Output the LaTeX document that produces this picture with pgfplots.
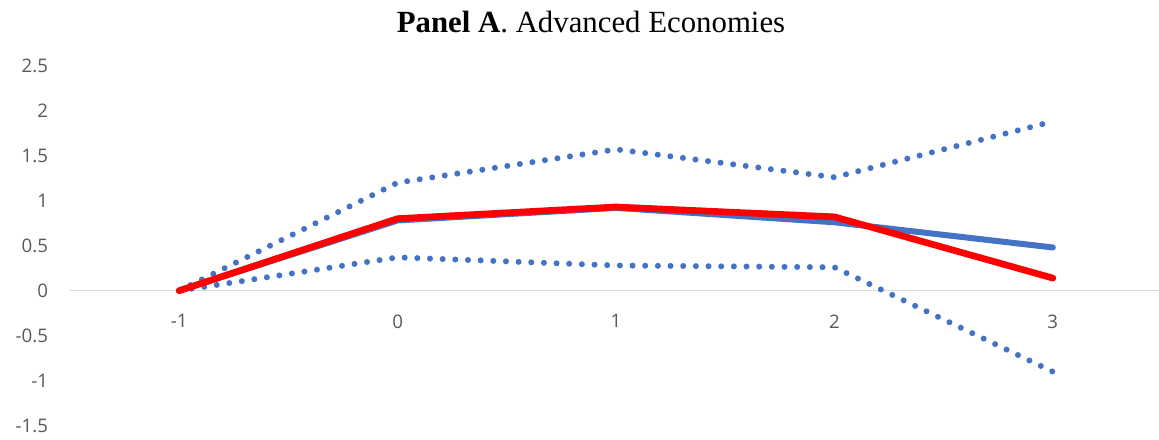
\documentclass[border=0pt]{standalone}
\usepackage{fontspec}
\setmainfont{Open Sans}
\newfontfamily\titlefont{Liberation Serif}
\usepackage{pgfplots}
\pgfplotsset{compat=1.18}
\definecolor{xlblue}{HTML}{4472C4}
\definecolor{xlred}{HTML}{FF0000}
\definecolor{xlgray}{HTML}{595959}
\definecolor{xlline}{HTML}{D9D9D9}
\begin{document}
\begin{tikzpicture}
\useasboundingbox (0,0) rectangle (869.25pt,329.25pt);
\node[anchor=base, font=\titlefont\fontsize{23.1}{26}\selectfont] at (443.25pt,304.5pt) {\textbf{Panel A}. Advanced Economies};
\begin{axis}[
  at={(52.5pt,10pt)}, anchor=south west,
  scale only axis, width=819pt, height=270pt,
  xmin=-1.5, xmax=3.5, ymin=-1.5, ymax=2.5,
  axis x line=middle, axis y line=left,
  x axis line style={-, draw=xlline, line width=1pt},
  y axis line style={draw=none},
  xtick={-1,0,1,2,3}, ytick={-1.5,-1,...,2.5},
  yticklabels={-1.5,-1,-0.5,0,0.5,1,1.5,2,2.5},
  major tick length=0pt,
  /pgf/number format/assume math mode=true,
  tick label style={font=\fontsize{14}{16}\selectfont, text=xlgray},
  yticklabel style={anchor=east, xshift=-13pt},
  xticklabel style={anchor=center, yshift=-23pt},
  clip=false,
]
\addplot[xlblue, line width=4.5pt, dash pattern=on 0pt off 9.5pt, line cap=round] coordinates {(-1,0) (0,1.20) (1,1.57) (2,1.26) (3,1.88)};
\addplot[xlblue, line width=4.5pt, dash pattern=on 0pt off 9.5pt, line cap=round] coordinates {(-1,0) (0,0.37) (1,0.28) (2,0.26) (3,-0.90)};
\addplot[xlblue, line width=4.5pt, line cap=round, line join=round] coordinates {(-1,0) (0,0.78) (1,0.92) (2,0.76) (3,0.48)};
\addplot[xlred, line width=5pt, line cap=round, line join=round] coordinates {(-1,0) (0,0.80) (1,0.93) (2,0.82) (3,0.14)};
\end{axis}
\end{tikzpicture}
\end{document}
